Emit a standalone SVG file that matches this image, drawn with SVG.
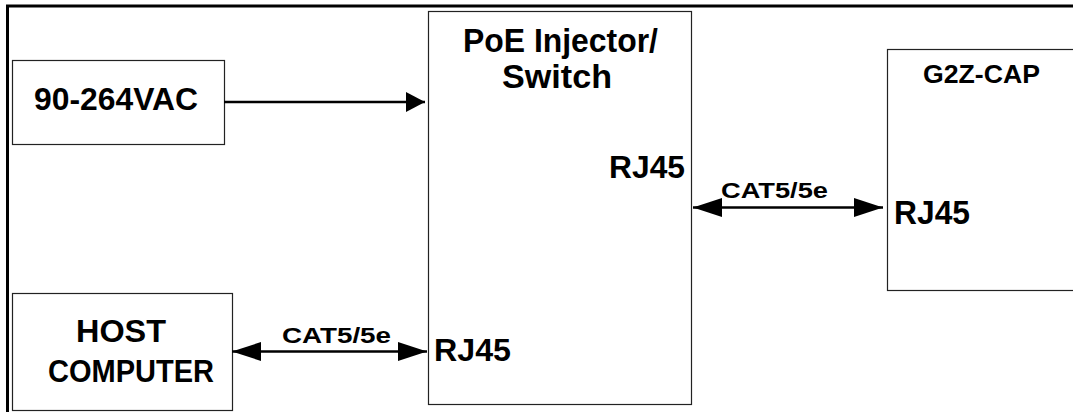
<svg xmlns="http://www.w3.org/2000/svg" width="1073" height="412" viewBox="0 0 1073 412">
<style>
.box{fill:#fff;stroke:#222;stroke-width:1.2}
.t{font-family:"Liberation Sans",Arial,sans-serif;font-weight:bold;fill:#000}
.ln{stroke:#000;stroke-width:2.5;fill:none}
</style>
<defs>
<marker id="ahs" markerUnits="userSpaceOnUse" markerWidth="20" markerHeight="20" refX="19" refY="10" orient="auto">
<path d="M0,0 L19,10 L0,20 Z" fill="#000"/>
</marker>
<marker id="ahl" markerUnits="userSpaceOnUse" markerWidth="30" markerHeight="20" refX="29" refY="10" orient="auto-start-reverse">
<path d="M0,0.5 L29,10 L0,19.5 Z" fill="#000"/>
</marker>
</defs>
<g id="frame">
<path d="M7.5,412 L7.5,6 L1073,6" fill="none" stroke="#000" stroke-width="3"/>
</g>
<g id="vac">
<rect class="box" x="12.5" y="60.5" width="212" height="84"/>
<text class="t" font-size="32" x="34" y="110" textLength="164" lengthAdjust="spacingAndGlyphs">90-264VAC</text>
</g>
<g id="host">
<rect class="box" x="12.5" y="293.5" width="220" height="117"/>
<text class="t" font-size="31" x="76" y="342" textLength="90" lengthAdjust="spacingAndGlyphs">HOST</text>
<text class="t" font-size="31" x="48" y="382" textLength="166" lengthAdjust="spacingAndGlyphs">COMPUTER</text>
</g>
<g id="poe">
<rect class="box" x="428.5" y="11.5" width="263" height="393"/>
<text class="t" font-size="33" x="463" y="52" textLength="195" lengthAdjust="spacingAndGlyphs">PoE Injector/</text>
<text class="t" font-size="34" x="502" y="88" textLength="110" lengthAdjust="spacingAndGlyphs">Switch</text>
<text class="t" font-size="31" x="609" y="178" textLength="76" lengthAdjust="spacingAndGlyphs">RJ45</text>
<text class="t" font-size="32" x="434" y="361" textLength="77" lengthAdjust="spacingAndGlyphs">RJ45</text>
</g>
<g id="g2z">
<rect class="box" x="887.5" y="49.5" width="200" height="241"/>
<text class="t" font-size="26.5" x="923" y="83" textLength="117" lengthAdjust="spacingAndGlyphs">G2Z-CAP</text>
<text class="t" font-size="33" x="894" y="224" textLength="76" lengthAdjust="spacingAndGlyphs">RJ45</text>
</g>
<g id="connectors">
<line class="ln" x1="224" y1="102" x2="425" y2="102" marker-end="url(#ahs)"/>
<line class="ln" x1="232" y1="351.5" x2="427" y2="351.5" marker-start="url(#ahl)" marker-end="url(#ahl)"/>
<text class="t" font-size="22" x="282" y="343" textLength="109" lengthAdjust="spacingAndGlyphs">CAT5/5e</text>
<line class="ln" x1="693" y1="207.5" x2="883" y2="207.5" marker-start="url(#ahl)" marker-end="url(#ahl)"/>
<text class="t" font-size="22" x="721" y="198" textLength="107" lengthAdjust="spacingAndGlyphs">CAT5/5e</text>
</g>
</svg>
